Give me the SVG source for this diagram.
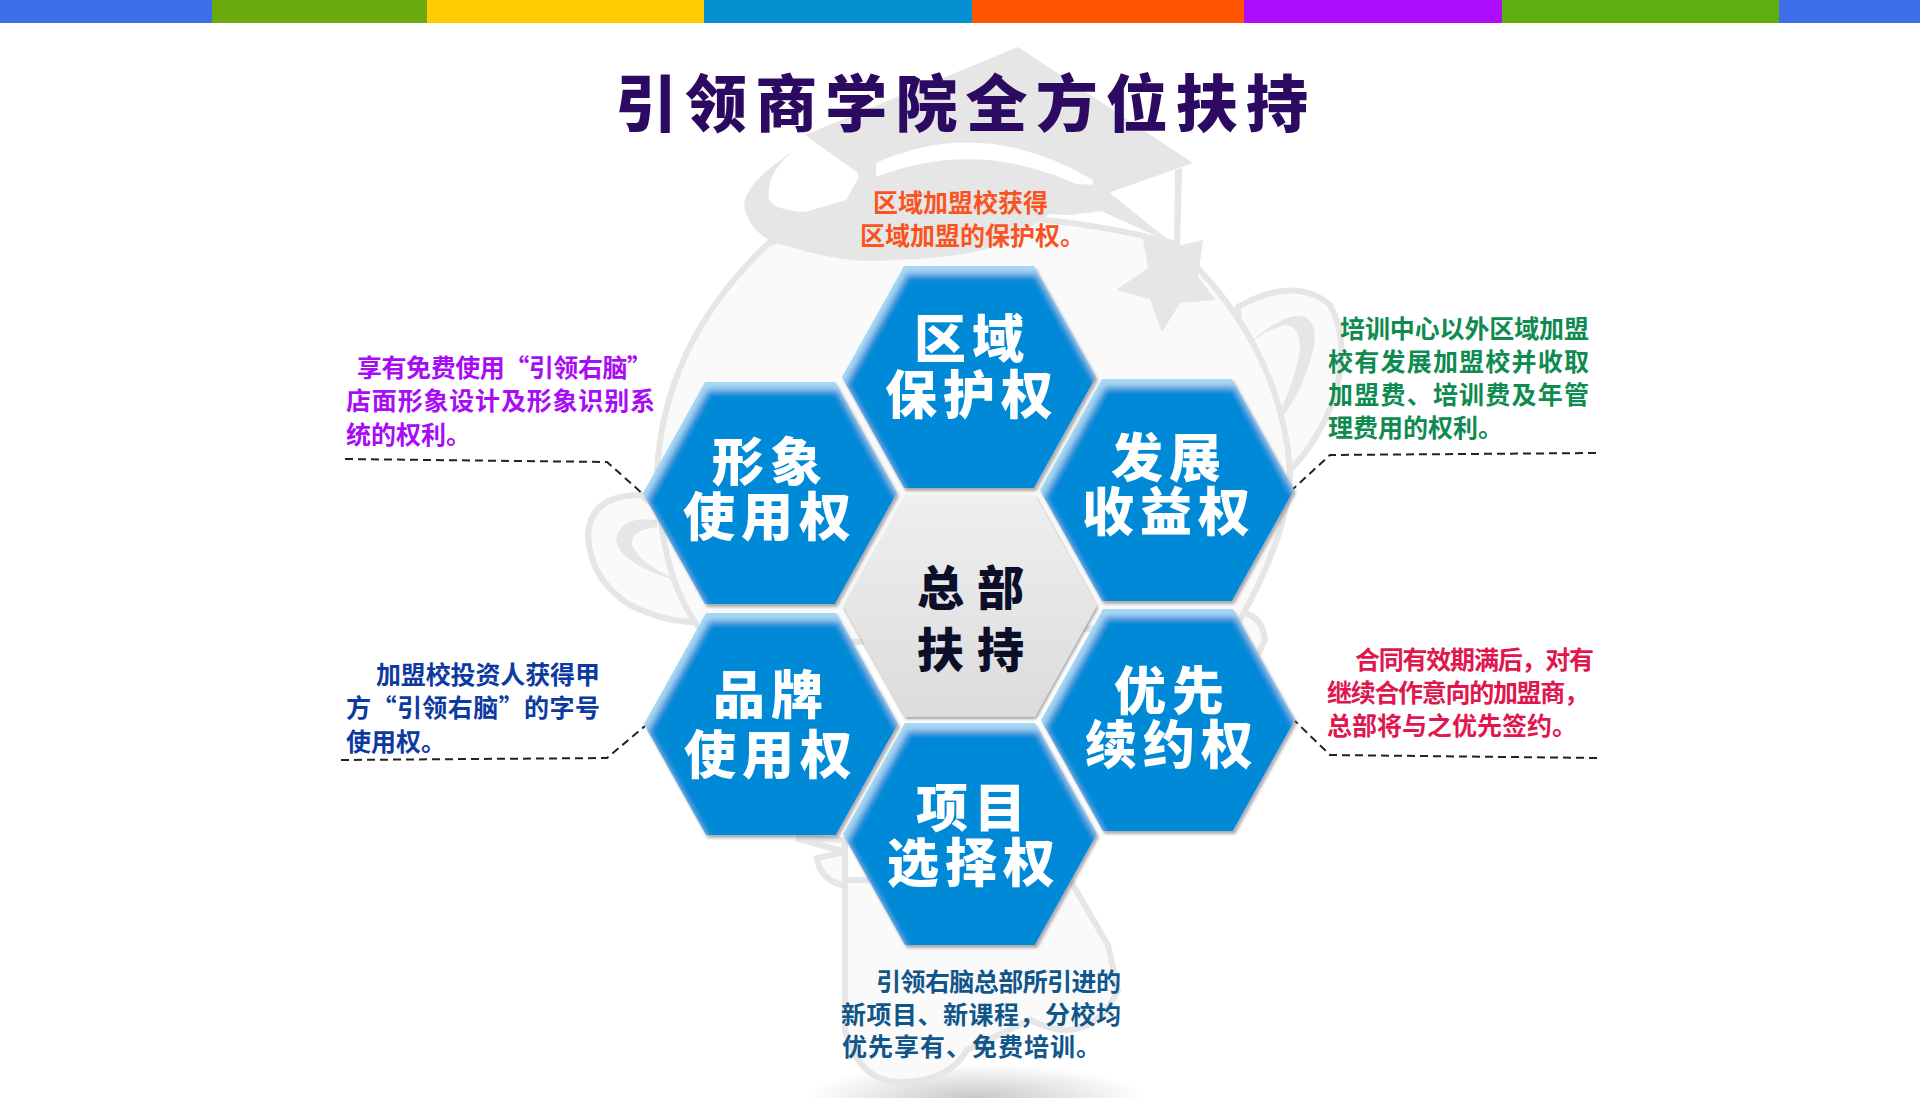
<svg xmlns="http://www.w3.org/2000/svg" width="1920" height="1098" viewBox="0 0 1920 1098">
<style>
text{font-family:"Noto Sans CJK SC","Liberation Sans",sans-serif}
.title{font-size:62px;font-weight:900;fill:#2d0a62}
.n{font-size:52px;font-weight:900;fill:#fff;text-anchor:middle;letter-spacing:6px}
.c{font-size:47px;font-weight:900;fill:#0b0f2a;text-anchor:middle;letter-spacing:13px}
.d{font-size:25px;font-weight:700}
.ds{fill:none;stroke:#222;stroke-width:2;stroke-dasharray:8 5}
.mg{fill:#e6e6e6}
.ml{fill:#fafafa;stroke:#e6e6e6;stroke-width:6}
</style>
<defs>
<polygon id="hex" points="-65,-111 65,-111 127,0 65,111 -65,111 -127,0"/>
<linearGradient id="gc" x1="0" y1="0" x2="0" y2="1"><stop offset="0" stop-color="#efefef"/><stop offset="1" stop-color="#dcdcdc"/></linearGradient>
<radialGradient id="sh"><stop offset="0" stop-color="#c8c8c8"/><stop offset="1" stop-color="#fff"/></radialGradient>
<filter id="bevel" x="-10%" y="-10%" width="120%" height="120%">
<feOffset in="SourceAlpha" dx="1.5" dy="2.5" result="so"/><feGaussianBlur in="so" stdDeviation="1.5" result="sb"/>
<feFlood flood-color="#777" flood-opacity=".6"/><feComposite in2="sb" operator="in" result="shadow"/>
<feFlood flood-color="#a8d8f4"/><feComposite in2="SourceAlpha" operator="in" result="base"/>
<feOffset in="SourceAlpha" dx="3" dy="8" result="o"/><feGaussianBlur in="o" stdDeviation="3" result="b"/>
<feFlood flood-color="#0689d7"/><feComposite in2="b" operator="in" result="inner"/>
<feComposite in="inner" in2="SourceAlpha" operator="in" result="clip"/>
<feMerge><feMergeNode in="shadow"/><feMergeNode in="base"/><feMergeNode in="clip"/></feMerge>
</filter>
<filter id="sd" x="-10%" y="-10%" width="120%" height="120%"><feDropShadow dx="1" dy="2" stdDeviation="1.5" flood-color="#777" flood-opacity=".7"/></filter>
</defs>
<rect width="1920" height="1098" fill="#fff"/>
<g id="top-bar">
<rect x="0" width="212" height="23" fill="#3f6fe8"/>
<rect x="212" width="215" height="23" fill="#6aaa0e"/>
<rect x="427" width="277" height="23" fill="#ffcc00"/>
<rect x="704" width="268" height="23" fill="#0590d2"/>
<rect x="972" width="272" height="23" fill="#ff5500"/>
<rect x="1244" width="258" height="23" fill="#ae0dfd"/>
<rect x="1502" width="277" height="23" fill="#5fae10"/>
<rect x="1779" width="141" height="23" fill="#3f6fe8"/>
</g>
<g id="mascot">
<ellipse cx="975" cy="1098" rx="170" ry="34" fill="url(#sh)"/>
<path class="ml" d="M845 910 L845 1030 Q860 1085 905 1082 Q950 1080 967 1050 L1030 1020 Q1090 1050 1118 990 L1108 945 L1070 880 L845 880Z"/>
<path class="ml" d="M796 838 L845 852 L817 858 Q820 880 845 886 L845 840Z"/>
<path class="ml" d="M1238 307 Q1295 275 1330 305 Q1350 340 1335 395 Q1320 440 1290 470 L1250 490Z"/>
<path class="mg" d="M1245 347 Q1285 310 1305 317 Q1320 325 1312 355 Q1300 400 1269 433 Q1295 385 1300 350 Q1300 325 1285 325 Q1265 330 1245 347Z"/>
<path class="ml" d="M641 495 Q590 495 588 535 Q590 580 630 605 Q670 625 710 622 L720 560Z"/>
<path class="mg" d="M657 520 Q620 515 616 540 Q620 565 684 583 Q640 565 632 545 Q630 530 657 527Z"/>
<path class="ml" d="M1230 612 Q1262 610 1265 640 L1250 670Z"/>
<path class="ml" d="M769 243 Q665 340 657 470 Q660 600 720 650 L1240 620 Q1290 530 1290 470 Q1280 340 1172 243 Q970 190 769 243Z" stroke-width="9"/>
<path class="mg" d="M1018 47 L1193 163 L1111 192 L1111 210 L1070 215 L860 205 L858 173 L805 135Z"/>
<path d="M876 163 Q983 115 1093 180 L1093 192 Q983 135 876 177Z" fill="#fff"/>
<path d="M792 152 Q735 190 746 213 Q755 240 790 247 Q850 265 892 260 Q960 258 994 247 Q1040 225 1070 197 L1172 243 L1100 185 L860 175 L846 200 L805 212 Q775 210 769 200 Q765 175 792 152Z" fill="#e6e6e6"/>
<path d="M1175 170 L1182 168 L1180 248 L1174 248Z" fill="#e6e6e6"/>
<polygon class="mg" points="1142,233 1172,247 1203,240 1198,277 1216,300 1180,303 1162,332 1150,299 1116,290 1148,268"/>
</g>
<g id="title"><text class="title" x="615" y="127" textLength="693">引领商学院全方位扶持</text></g>
<g id="connectors">
<polyline class="ds" points="345,459 607,462 643,494"/>
<polyline class="ds" points="341,760 607,758 645,726"/>
<polyline class="ds" points="1596,453 1330,455 1293,489"/>
<polyline class="ds" points="1597,758 1330,755 1295,721"/>
</g>
<g id="node-center"><use href="#hex" x="970" y="606" fill="url(#gc)" filter="url(#sd)"/><text class="c"><tspan x="977" y="605">总部</tspan><tspan x="977" y="667">扶持</tspan></text></g>
<g id="node-top"><use href="#hex" x="969" y="377" filter="url(#bevel)"/><text class="n"><tspan x="972" y="358">区域</tspan><tspan x="972" y="414">保护权</tspan></text></g>
<g id="node-left-top"><use href="#hex" x="770" y="493" filter="url(#bevel)"/><text class="n"><tspan x="770" y="481">形象</tspan><tspan x="770" y="536">使用权</tspan></text></g>
<g id="node-left-bottom"><use href="#hex" x="771" y="724" filter="url(#bevel)"/><text class="n"><tspan x="771" y="714">品牌</tspan><tspan x="771" y="774">使用权</tspan></text></g>
<g id="node-right-top"><use href="#hex" x="1167" y="490" filter="url(#bevel)"/><text class="n"><tspan x="1169" y="477">发展</tspan><tspan x="1169" y="531">收益权</tspan></text></g>
<g id="node-right-bottom"><use href="#hex" x="1168" y="720" filter="url(#bevel)"/><text class="n"><tspan x="1172" y="710">优先</tspan><tspan x="1172" y="764">续约权</tspan></text></g>
<g id="node-bottom"><use href="#hex" x="970" y="834" filter="url(#bevel)"/><text class="n"><tspan x="974" y="827">项目</tspan><tspan x="974" y="882">选择权</tspan></text></g>
<g id="desc-top" class="d" fill="#f9541f"><text x="873" y="212" textLength="175">区域加盟校获得</text><text x="860" y="245">区域加盟的保护权。</text></g>
<g id="desc-left-top" class="d" fill="#a80cf5"><text x="357" y="377" textLength="295">享有免费使用“引领右脑”</text><text x="346" y="410" textLength="309">店面形象设计及形象识别系</text><text x="346" y="444">统的权利。</text></g>
<g id="desc-left-bottom" class="d" fill="#0d3aa0"><text x="376" y="684" textLength="224">加盟校投资人获得甲</text><text x="346" y="717" textLength="254">方“引领右脑”的字号</text><text x="346" y="751">使用权。</text></g>
<g id="desc-right-top" class="d" fill="#0f8a50"><text x="1340" y="338" textLength="249">培训中心以外区域加盟</text><text x="1328" y="371" textLength="261">校有发展加盟校并收取</text><text x="1328" y="404" textLength="261">加盟费、培训费及年管</text><text x="1328" y="437">理费用的权利。</text></g>
<g id="desc-right-bottom" class="d" fill="#e0174e"><text x="1355" y="669" textLength="239">合同有效期满后，对有</text><text x="1327" y="702" textLength="262">继续合作意向的加盟商，</text><text x="1327" y="735">总部将与之优先签约。</text></g>
<g id="desc-bottom" class="d" fill="#11568a"><text x="876" y="991" textLength="245">引领右脑总部所引进的</text><text x="841" y="1024" textLength="280">新项目、新课程，分校均</text><text x="842" y="1056" style="letter-spacing:1px">优先享有、免费培训。</text></g>
</svg>
